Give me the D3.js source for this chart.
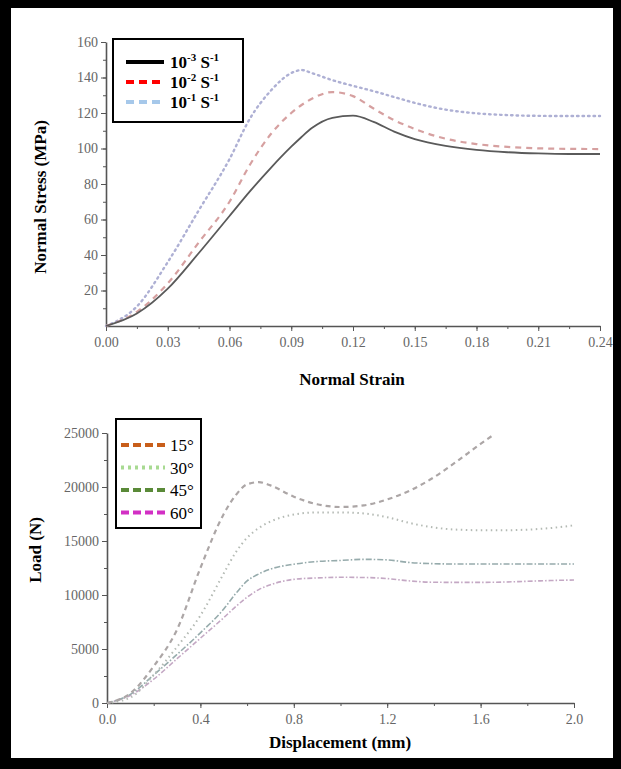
<!DOCTYPE html>
<html>
<head>
<meta charset="utf-8">
<script src="https://cdn.jsdelivr.net/npm/d3@7"></script>
<style>
	html, body { margin: 0; padding: 0; background: #000; }
	svg { display: block; }
	.tick text { font-family: "Liberation Serif", serif; font-size: 14px; fill: #666; }
	.axis path, .axis line { stroke: #555; }
	.title { font-family: "Liberation Serif", serif; font-weight: bold; font-size: 17px; fill: #000; }
	.legText { font-family: "Liberation Serif", serif; font-size: 17px; fill: #000; }
</style>
</head>
<body>
<div id="chartDIV"></div>
<script>
// top chart: normal stress vs strain
const strainGrid = [0, 0.015, 0.03, 0.045, 0.06, 0.07, 0.08, 0.09, 0.095, 0.1, 0.11, 0.12, 0.13, 0.14, 0.15, 0.165, 0.18, 0.195, 0.21, 0.225, 0.24];
const stressRate3 = [0, 7, 21, 41, 62, 76, 89, 101, 106.5, 111.5, 117.3, 118.5, 115, 109.5, 105.3, 101.5, 99.2, 97.9, 97.2, 96.9, 96.9];
const stressRate2 = [0, 8, 24, 47, 70, 91, 108, 120, 124.5, 128, 131.8, 129.5, 122.5, 116, 111, 105.5, 102.5, 100.9, 100.1, 99.8, 99.7];
const stressRate1 = [0, 11, 36, 65, 94, 117, 132.5, 142.5, 144.2, 142.5, 138.5, 135.3, 132.3, 129, 125.7, 121.9, 119.8, 118.8, 118.4, 118.3, 118.3];
const strainTicks = [0, 0.03, 0.06, 0.09, 0.12, 0.15, 0.18, 0.21, 0.24];
const stressTicks = [20, 40, 60, 80, 100, 120, 140, 160];
const rateLabels = ["-3", "-2", "-1"];

// bottom chart: load vs displacement
const dispGrid = [0, 0.1, 0.2, 0.3, 0.4, 0.5, 0.55, 0.6, 0.65, 0.7, 0.8, 0.9, 1.0, 1.1, 1.2, 1.3, 1.4, 1.5, 1.6, 1.7, 1.8, 1.9, 2.0];
const disp15 = [0, 0.1, 0.2, 0.3, 0.4, 0.5, 0.55, 0.6, 0.65, 0.7, 0.8, 0.9, 1.0, 1.1, 1.2, 1.3, 1.4, 1.5, 1.6, 1.66];
const load15 = [0, 900, 3400, 6800, 12500, 17500, 19200, 20250, 20450, 20150, 19100, 18400, 18150, 18300, 18850, 19700, 20900, 22400, 24000, 24900];
const load30 = [0, 500, 2600, 5200, 8100, 12000, 13900, 15300, 16200, 16800, 17450, 17650, 17650, 17550, 17200, 16650, 16250, 16050, 16000, 16000, 16050, 16200, 16450];
const load45 = [0, 800, 2600, 4500, 6500, 8700, 10100, 11300, 11950, 12400, 12850, 13100, 13200, 13300, 13250, 13000, 12900, 12870, 12870, 12870, 12870, 12870, 12870];
const load60 = [0, 700, 2200, 4100, 6000, 7900, 8900, 9800, 10500, 10950, 11450, 11580, 11640, 11620, 11520, 11300, 11180, 11170, 11170, 11200, 11270, 11340, 11390];
const dispTicks = [0, 0.4, 0.8, 1.2, 1.6, 2.0];
const loadTicks = [0, 5000, 10000, 15000, 20000, 25000];
const angleLabels = ["15°", "30°", "45°", "60°"];

const width = 621;
const height = 769;

const svg = d3.select("#chartDIV")
	.append("svg")
	.attr("width", width)
	.attr("height", height);

// black frame round the white page
svg.append("rect").attr("width", width).attr("height", height).attr("fill", "#000");
svg.append("rect").attr("x", 11).attr("y", 8).attr("width", 602).attr("height", 750).attr("fill", "#fff");

function zip(xs, ys) {
	return xs.map((x, i) => ({ x: x, y: ys[i] }));
}

function drawAxes(g, xScale, yScale, opt) {
	const [x0, x1] = xScale.range();
	const [y0, y1] = yScale.range();

	// minor ticks
	g.append("g").attr("class", "axis")
		.attr("transform", `translate(0, ${y0})`)
		.call(d3.axisBottom(xScale).tickValues(opt.xMinor).tickSize(3).tickFormat(""))
		.call(a => a.select(".domain").remove());
	g.append("g").attr("class", "axis")
		.attr("transform", `translate(${x0}, 0)`)
		.call(d3.axisLeft(yScale).tickValues(opt.yMinor).tickSize(3).tickFormat(""))
		.call(a => a.select(".domain").remove());

	// major ticks with labels
	const xa = g.append("g").attr("class", "axis")
		.attr("transform", `translate(0, ${y0})`)
		.call(d3.axisBottom(xScale).tickValues(opt.xTicks).tickSize(5).tickSizeOuter(0).tickPadding(6).tickFormat(opt.xFormat));
	xa.select(".domain").attr("stroke-width", 1.6);
	const ya = g.append("g").attr("class", "axis")
		.attr("transform", `translate(${x0}, 0)`)
		.call(d3.axisLeft(yScale).tickValues(opt.yTicks).tickSize(5).tickSizeOuter(0).tickPadding(3).tickFormat(opt.yFormat));
	ya.select(".domain").attr("stroke-width", 1.6);
}

// ---------- top chart ----------
const topX = d3.scaleLinear().domain([0, 0.24]).range([106, 600]);
const topY = d3.scaleLinear().domain([0, 160]).range([326, 42]);
const gTop = svg.append("g");

drawAxes(gTop, topX, topY, {
	xTicks: strainTicks,
	xMinor: d3.range(0, 0.2401, 0.015),
	yTicks: stressTicks,
	yMinor: d3.range(10, 160, 10),
	xFormat: d3.format(".2f"),
	yFormat: d3.format("d")
});

const topLine = d3.line()
	.x(d => topX(d.x))
	.y(d => topY(d.y))
	.curve(d3.curveMonotoneX);

const topSeries = [
	{ data: stressRate1, stroke: "#aeb0d4", width: 2.4, dash: "1.5,4", cap: "round" },
	{ data: stressRate2, stroke: "#d6a0a0", width: 2.2, dash: "6,5", cap: "butt" },
	{ data: stressRate3, stroke: "#5a5a5a", width: 1.8, dash: null, cap: "butt" }
];

topSeries.forEach(s => {
	gTop.append("path")
		.datum(zip(strainGrid, s.data))
		.attr("d", topLine)
		.attr("fill", "none")
		.attr("stroke", s.stroke)
		.attr("stroke-width", s.width)
		.attr("stroke-linecap", s.cap)
		.attr("stroke-dasharray", s.dash);
});

// top legend
const legTop = gTop.append("g");
legTop.append("rect")
	.attr("x", 113).attr("y", 39).attr("width", 130).attr("height", 83)
	.attr("fill", "#fff").attr("stroke", "#000").attr("stroke-width", 2);

const topLegendStyle = [
	{ color: "#000", dash: null },
	{ color: "#ff0000", dash: "8,5" },
	{ color: "#a6c8ea", dash: "8,5" }
];
rateLabels.forEach((lab, i) => {
	const y = 62 + i * 20;
	legTop.append("line")
		.attr("x1", 126).attr("x2", 164).attr("y1", y).attr("y2", y)
		.attr("stroke", topLegendStyle[i].color)
		.attr("stroke-width", 4)
		.attr("stroke-dasharray", topLegendStyle[i].dash);
	const t = legTop.append("text")
		.attr("class", "legText")
		.attr("x", 170).attr("y", y + 6)
		.style("font-weight", "bold");
	t.append("tspan").text("10");
	t.append("tspan").attr("dy", -7).style("font-size", "11px").text(lab);
	t.append("tspan").attr("dy", 7).text(" S");
	t.append("tspan").attr("dy", -7).style("font-size", "11px").text("-1");
});

gTop.append("text").attr("class", "title")
	.attr("x", 352).attr("y", 385)
	.attr("text-anchor", "middle")
	.text("Normal Strain");
gTop.append("text").attr("class", "title")
	.attr("transform", "translate(46, 197) rotate(-90)")
	.attr("text-anchor", "middle")
	.text("Normal Stress (MPa)");

// ---------- bottom chart ----------
const botX = d3.scaleLinear().domain([0, 2]).range([107, 574]);
const botY = d3.scaleLinear().domain([0, 25000]).range([703, 433]);
const gBot = svg.append("g");

drawAxes(gBot, botX, botY, {
	xTicks: dispTicks,
	xMinor: d3.range(0, 2.01, 0.2),
	yTicks: loadTicks,
	yMinor: d3.range(2500, 25000, 5000),
	xFormat: d3.format(".1f"),
	yFormat: d3.format("d")
});

const botLine = d3.line()
	.x(d => botX(d.x))
	.y(d => botY(d.y))
	.curve(d3.curveMonotoneX);

const botSeries = [
	{ x: dispGrid, data: load60, stroke: "#c4a8c4", width: 1.6, dash: "5,2,1.5,2", legend: "#d22fc4", legDash: "8,4" },
	{ x: dispGrid, data: load45, stroke: "#96abac", width: 1.6, dash: "6,2,1.5,2", legend: "#5a8a38", legDash: "8,4" },
	{ x: dispGrid, data: load30, stroke: "#b4bab4", width: 2, dash: "1.5,3.5", legend: "#a8da92", legDash: "3,4" },
	{ x: disp15, data: load15, stroke: "#aca6a6", width: 2.2, dash: "5,4", legend: "#c85e1a", legDash: "8,4" }
];

botSeries.forEach(s => {
	gBot.append("path")
		.datum(zip(s.x, s.data))
		.attr("d", botLine)
		.attr("fill", "none")
		.attr("stroke", s.stroke)
		.attr("stroke-width", s.width)
		.attr("stroke-dasharray", s.dash);
});

// bottom legend
const legBot = gBot.append("g");
legBot.append("rect")
	.attr("x", 116).attr("y", 419).attr("width", 85).attr("height", 109)
	.attr("fill", "#fff").attr("stroke", "#000").attr("stroke-width", 2);

const botLegendOrder = botSeries.slice().reverse();
angleLabels.forEach((lab, i) => {
	const y = 445 + i * 22.5;
	legBot.append("line")
		.attr("x1", 121).attr("x2", 165).attr("y1", y).attr("y2", y)
		.attr("stroke", botLegendOrder[i].legend)
		.attr("stroke-width", 4)
		.attr("stroke-dasharray", botLegendOrder[i].legDash);
	legBot.append("text")
		.attr("class", "legText")
		.attr("x", 170).attr("y", y + 6)
		.text(lab);
});

gBot.append("text").attr("class", "title")
	.attr("x", 340).attr("y", 748)
	.attr("text-anchor", "middle")
	.text("Displacement (mm)");
gBot.append("text").attr("class", "title")
	.attr("transform", "translate(41, 550) rotate(-90)")
	.attr("text-anchor", "middle")
	.text("Load (N)");
</script>
</body>
</html>
